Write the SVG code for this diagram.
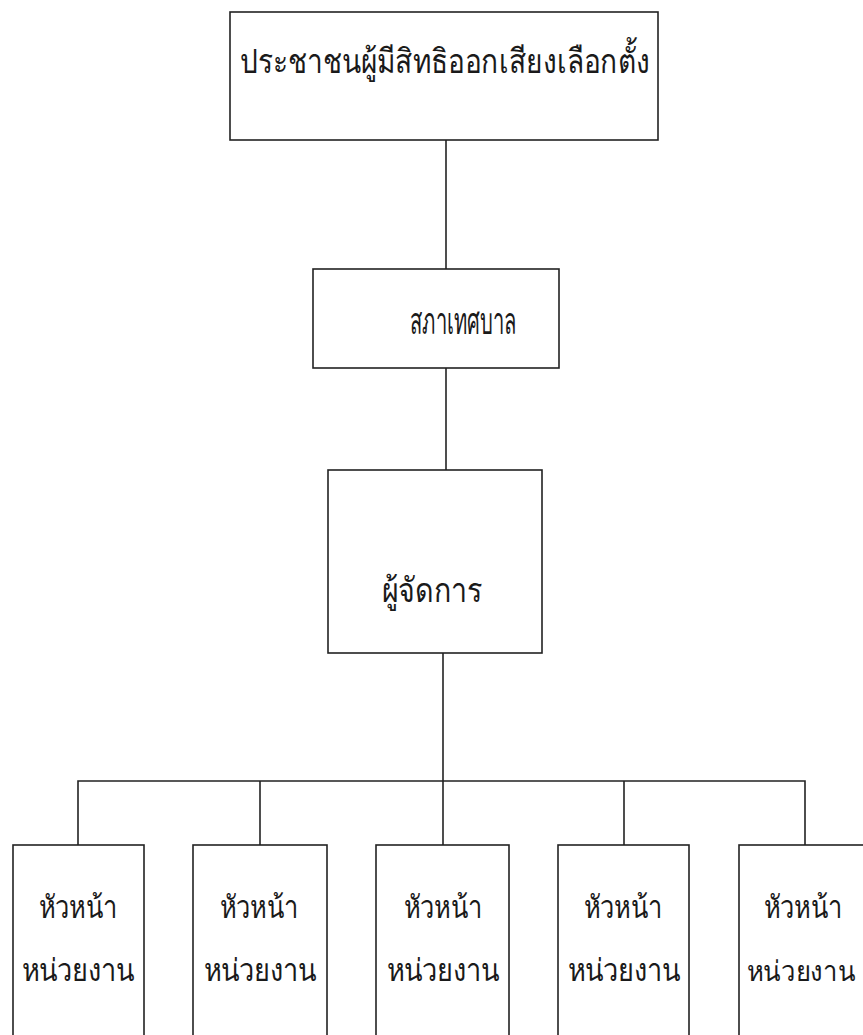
<svg xmlns="http://www.w3.org/2000/svg" width="863" height="1035" viewBox="0 0 863 1035">
<style>
.box{fill:none;stroke:#222;stroke-width:1.6}
.ln{fill:none;stroke:#222;stroke-width:1.6}
.t{font-family:"Liberation Serif","Noto Sans",serif;fill:#1a1a1a;text-anchor:middle}
.b{font-size:31px}
</style>
<rect width="863" height="1035" fill="#fff"/>
<g id="connectors">
<line class="ln" x1="446" y1="140" x2="446" y2="269"/>
<line class="ln" x1="446" y1="368" x2="446" y2="470"/>
<line class="ln" x1="443" y1="653" x2="443" y2="845"/>
<polyline class="ln" points="78,845 78,781 805,781 805,845"/>
<line class="ln" x1="260" y1="781" x2="260" y2="845"/>
<line class="ln" x1="624" y1="781" x2="624" y2="845"/>
</g>
<g id="n1"><rect class="box" x="230" y="12" width="428" height="128"/><text class="t" x="445" y="73" font-size="34" textLength="410" lengthAdjust="spacingAndGlyphs">ประชาชนผู้มีสิทธิออกเสียงเลือกตั้ง</text></g>
<g id="n2"><rect class="box" x="313" y="269" width="246" height="99"/><text class="t" x="463" y="334" font-size="38" textLength="106" lengthAdjust="spacingAndGlyphs">สภาเทศบาล</text></g>
<g id="n3"><rect class="box" x="328" y="470" width="214" height="183"/><text class="t" x="432" y="602" font-size="34" textLength="101" lengthAdjust="spacingAndGlyphs">ผู้จัดการ</text></g>
<g id="n4"><rect class="box" x="13" y="845" width="131" height="200"/><text class="t b" x="78" y="918" textLength="78" lengthAdjust="spacingAndGlyphs">หัวหน้า</text><text class="t b" x="78" y="981" textLength="113" lengthAdjust="spacingAndGlyphs">หน่วยงาน</text></g>
<g id="n5"><rect class="box" x="193" y="845" width="134" height="200"/><text class="t b" x="259" y="918" textLength="78" lengthAdjust="spacingAndGlyphs">หัวหน้า</text><text class="t b" x="260" y="981" textLength="113" lengthAdjust="spacingAndGlyphs">หน่วยงาน</text></g>
<g id="n6"><rect class="box" x="376" y="845" width="133" height="200"/><text class="t b" x="443" y="918" textLength="78" lengthAdjust="spacingAndGlyphs">หัวหน้า</text><text class="t b" x="443" y="981" textLength="113" lengthAdjust="spacingAndGlyphs">หน่วยงาน</text></g>
<g id="n7"><rect class="box" x="558" y="845" width="131" height="200"/><text class="t b" x="623" y="918" textLength="78" lengthAdjust="spacingAndGlyphs">หัวหน้า</text><text class="t b" x="624" y="981" textLength="113" lengthAdjust="spacingAndGlyphs">หน่วยงาน</text></g>
<g id="n8"><rect class="box" x="739" y="845" width="140" height="200"/><text class="t b" x="803" y="918" textLength="78" lengthAdjust="spacingAndGlyphs">หัวหน้า</text><text class="t" x="801" y="981" font-size="28" textLength="108" lengthAdjust="spacingAndGlyphs">หน่วยงาน</text></g>
</svg>
